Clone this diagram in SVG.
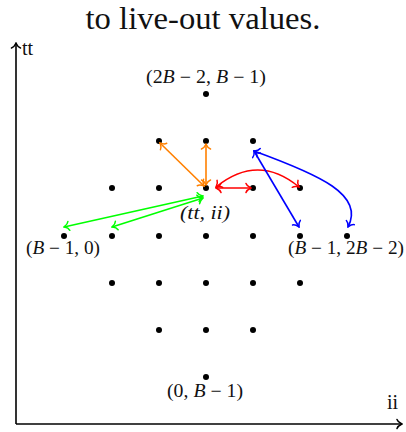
<svg xmlns="http://www.w3.org/2000/svg" width="406" height="432" viewBox="0 0 406 432">
<style>
.dot{fill:#000}
.lbl{font-family:"Liberation Serif",serif;font-size:18px;fill:#111;text-anchor:middle}
.it{font-style:italic}
.title{font-family:"Liberation Serif",serif;font-size:31px;fill:#111;text-anchor:middle}
.ax{font-family:"Liberation Serif",serif;font-size:20px;fill:#111}
.c{fill:none;stroke-width:1.6}
</style>
<defs>
<marker id="hk" viewBox="-7 -6 8 12" refX="0" refY="0" markerWidth="8" markerHeight="12" markerUnits="userSpaceOnUse" orient="auto-start-reverse"><path d="M-5,-4.5 C-4,-1.5 -1,-0.5 0,0 C-1,0.5 -4,1.5 -5,4.5" fill="none" stroke="#000" stroke-width="1.5" stroke-linecap="round"/></marker>
<marker id="ho" viewBox="-7 -6 8 12" refX="0" refY="0" markerWidth="8" markerHeight="12" markerUnits="userSpaceOnUse" orient="auto-start-reverse"><path d="M-5,-4.5 C-4,-1.5 -1,-0.5 0,0 C-1,0.5 -4,1.5 -5,4.5" fill="none" stroke="#FF8000" stroke-width="1.5" stroke-linecap="round"/></marker>
<marker id="hr" viewBox="-7 -6 8 12" refX="0" refY="0" markerWidth="8" markerHeight="12" markerUnits="userSpaceOnUse" orient="auto-start-reverse"><path d="M-5,-4.5 C-4,-1.5 -1,-0.5 0,0 C-1,0.5 -4,1.5 -5,4.5" fill="none" stroke="#FF0000" stroke-width="1.5" stroke-linecap="round"/></marker>
<marker id="hb" viewBox="-7 -6 8 12" refX="0" refY="0" markerWidth="8" markerHeight="12" markerUnits="userSpaceOnUse" orient="auto-start-reverse"><path d="M-5,-4.5 C-4,-1.5 -1,-0.5 0,0 C-1,0.5 -4,1.5 -5,4.5" fill="none" stroke="#0000FF" stroke-width="1.5" stroke-linecap="round"/></marker>
<marker id="hg" viewBox="-7 -6 8 12" refX="0" refY="0" markerWidth="8" markerHeight="12" markerUnits="userSpaceOnUse" orient="auto-start-reverse"><path d="M-5,-4.5 C-4,-1.5 -1,-0.5 0,0 C-1,0.5 -4,1.5 -5,4.5" fill="none" stroke="#00FF00" stroke-width="1.5" stroke-linecap="round"/></marker>
</defs>
<rect width="406" height="432" fill="#fff"/>
<text class="title" x="203" y="29" textLength="235" lengthAdjust="spacingAndGlyphs">to live-out values.</text>
<g id="axes">
<line x1="16" y1="424" x2="16" y2="43" stroke="#000" stroke-width="1.6" marker-end="url(#hk)"/>
<line x1="16" y1="424" x2="402" y2="424" stroke="#000" stroke-width="1.6" marker-end="url(#hk)"/>
<text class="ax" x="22" y="55">tt</text>
<text class="ax" x="387" y="409">ii</text>
</g>
<g id="nodes">
<g id="n-top"><circle class="dot" cx="206" cy="94" r="3"/><text class="lbl" x="206" y="83" textLength="120" lengthAdjust="spacingAndGlyphs">(2<tspan class="it">B</tspan> − 2, <tspan class="it">B</tspan> − 1)</text></g>
<g id="r1"><circle class="dot" cx="159" cy="141" r="3"/><circle class="dot" cx="206" cy="141" r="3"/><circle class="dot" cx="253" cy="141" r="3"/></g>
<g id="r2"><circle class="dot" cx="112" cy="188" r="3"/><circle class="dot" cx="159" cy="188" r="3"/><circle class="dot" cx="253" cy="188" r="3"/><circle class="dot" cx="300" cy="188" r="3"/></g>
<g id="n-ttii"><circle class="dot" cx="206" cy="188" r="3"/><text class="lbl it" x="205" y="219" textLength="50" lengthAdjust="spacingAndGlyphs">(<tspan>tt</tspan>, <tspan>ii</tspan>)</text></g>
<g id="n-left"><circle class="dot" cx="64" cy="236" r="3"/><text class="lbl" x="63" y="254" textLength="74" lengthAdjust="spacingAndGlyphs">(<tspan class="it">B</tspan> − 1, 0)</text></g>
<g id="r3"><circle class="dot" cx="112" cy="236" r="3"/><circle class="dot" cx="159" cy="236" r="3"/><circle class="dot" cx="206" cy="236" r="3"/><circle class="dot" cx="253" cy="236" r="3"/><circle class="dot" cx="300" cy="236" r="3"/></g>
<g id="n-right"><circle class="dot" cx="347" cy="236" r="3"/><text class="lbl" x="346" y="254" textLength="116" lengthAdjust="spacingAndGlyphs">(<tspan class="it">B</tspan> − 1, 2<tspan class="it">B</tspan> − 2)</text></g>
<g id="r4"><circle class="dot" cx="112" cy="283" r="3"/><circle class="dot" cx="159" cy="283" r="3"/><circle class="dot" cx="206" cy="283" r="3"/><circle class="dot" cx="253" cy="283" r="3"/><circle class="dot" cx="300" cy="283" r="3"/></g>
<g id="r5"><circle class="dot" cx="159" cy="330" r="3"/><circle class="dot" cx="206" cy="330" r="3"/><circle class="dot" cx="253" cy="330" r="3"/></g>
<g id="n-bottom"><circle class="dot" cx="206" cy="377" r="3"/><text class="lbl" x="205" y="397" textLength="76" lengthAdjust="spacingAndGlyphs">(0, <tspan class="it">B</tspan> − 1)</text></g>
</g>
<g id="connectors">
<line class="c" x1="204" y1="186" x2="160" y2="143" stroke="#FF8000" marker-start="url(#ho)" marker-end="url(#ho)"/>
<line class="c" x1="206" y1="185" x2="206" y2="144" stroke="#FF8000" marker-start="url(#ho)" marker-end="url(#ho)"/>
<line class="c" x1="216" y1="188" x2="251" y2="188" stroke="#FF0000" marker-start="url(#hr)" marker-end="url(#hr)"/>
<path class="c" d="M216,187 Q258,153 299,187" stroke="#FF0000" marker-start="url(#hr)" marker-end="url(#hr)"/>
<line class="c" x1="254" y1="151" x2="299" y2="227" stroke="#0000FF" marker-start="url(#hb)" marker-end="url(#hb)"/>
<path class="c" d="M254,151 C320,175 365,195 348,227" stroke="#0000FF" marker-start="url(#hb)" marker-end="url(#hb)"/>
<line class="c" x1="203" y1="196" x2="64" y2="227" stroke="#00FF00" marker-start="url(#hg)" marker-end="url(#hg)"/>
<line class="c" x1="203" y1="198" x2="112" y2="227" stroke="#00FF00" marker-start="url(#hg)" marker-end="url(#hg)"/>
</g>
</svg>
